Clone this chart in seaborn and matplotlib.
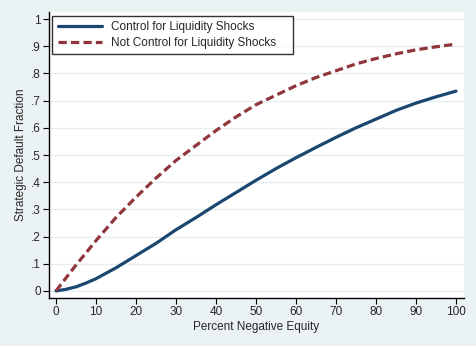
import numpy as np
import pandas as pd
import matplotlib
matplotlib.use("Agg")
import matplotlib.pyplot as plt
import seaborn as sns
from matplotlib.lines import Line2D

equity = [0, 2.5, 5, 7.5, 10, 15, 20, 25, 30, 35, 40, 45, 50, 55, 60, 65, 70, 75, 80, 85, 90, 95, 100]
control = [0, 0.006, 0.015, 0.029, 0.045, 0.085, 0.13, 0.175, 0.225, 0.27, 0.317, 0.362, 0.407,
           0.45, 0.49, 0.528, 0.565, 0.6, 0.632, 0.664, 0.691, 0.714, 0.735]
no_control = [0, 0.048, 0.095, 0.14, 0.185, 0.27, 0.345, 0.415, 0.48, 0.535, 0.59, 0.64, 0.685,
              0.72, 0.755, 0.785, 0.81, 0.835, 0.855, 0.872, 0.887, 0.898, 0.908]
series_names = ["Control for Liquidity Shocks", "Not Control for Liquidity Shocks"]
yticks = [0, 0.1, 0.2, 0.3, 0.4, 0.5, 0.6, 0.7, 0.8, 0.9, 1.0]
ytick_labels = ["0", ".1", ".2", ".3", ".4", ".5", ".6", ".7", ".8", ".9", "1"]
xticks = list(range(0, 101, 10))

df = pd.DataFrame({
    "x": equity * 2,
    "y": control + no_control,
    "series": [series_names[0]] * len(equity) + [series_names[1]] * len(equity),
})

sns.set_style("white")
plt.rcParams["font.family"] = ["Liberation Sans", "DejaVu Sans"]

bg = "#EAF2F3"
fig = plt.figure(figsize=(4.76, 3.46), dpi=100, facecolor=bg)
ax = fig.add_axes([0.1029, 0.1387, 0.8719, 0.8266])
ax.set_facecolor("white")

palette = {series_names[0]: "#1a476f", series_names[1]: "#90353b"}
dash = (2.6, 1.3)
sns.lineplot(data=df, x="x", y="y", hue="series", style="series",
             palette=palette, dashes={series_names[0]: "", series_names[1]: dash},
             linewidth=2.3, ax=ax, legend=False)

ax.set_xlim(-1.75, 102)
ax.set_ylim(-0.026, 1.026)
ax.set_yticks(yticks)
ax.set_yticklabels(ytick_labels)
ax.set_xticks(xticks)
ax.grid(axis="y", color="#E6EEF0", linewidth=1.0)
ax.grid(axis="x", visible=False)
for s in ["top", "right"]:
    ax.spines[s].set_visible(False)
for s in ["left", "bottom"]:
    ax.spines[s].set_color("black")
    ax.spines[s].set_linewidth(1.0)
ax.tick_params(axis="both", direction="out", length=4, width=0.8, color="black",
               labelsize=8.5, pad=2, left=True, bottom=True)
ax.set_xlabel("Percent Negative Equity", fontsize=8.5, labelpad=2)
ax.set_ylabel("Strategic Default Fraction", fontsize=8.5, labelpad=3)

handles = [Line2D([], [], color="#1a476f", lw=2.3),
           Line2D([], [], color="#90353b", lw=2.3, ls=(0, dash))]
leg = ax.legend(handles, series_names, loc="upper left",
                bbox_to_anchor=(0.008, 0.5, 0.579, 0.486), mode="expand",
                fontsize=8.5, frameon=True, fancybox=False, handlelength=3.8,
                borderpad=0.45, labelspacing=0.3, handletextpad=0.7, borderaxespad=0.0)
leg.get_frame().set_edgecolor("black")
leg.get_frame().set_linewidth(1.0)

fig.savefig("out.png", dpi=100, facecolor=bg)
